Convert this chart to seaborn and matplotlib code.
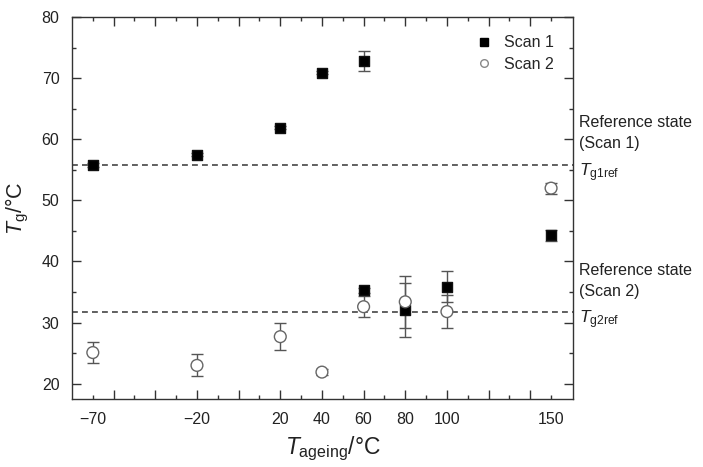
import matplotlib
matplotlib.use("Agg")
import matplotlib.pyplot as plt
import seaborn as sns
import pandas as pd
import numpy as np
from matplotlib.lines import Line2D

sns.set_theme(style="white")
plt.rcParams['font.family'] = ['Liberation Sans', 'DejaVu Sans']
plt.rcParams['mathtext.fontset'] = 'custom'
plt.rcParams['mathtext.rm'] = 'Liberation Sans'
plt.rcParams['mathtext.it'] = 'Liberation Sans:italic'

# Data
t_ageing = [-70, -20, 20, 40, 60, 80, 100, 150]
scan1 = [55.8, 57.5, 61.9, 70.9, 72.8, 32.1, 35.9, 44.3]
scan1_err = [0.3, 0.3, 0.3, 0.3, 1.6, 4.4, 2.6, 0.9]
scan1_extra_x = [60]
scan1_extra_y = [35.3]
scan1_extra_err = [0.4]
scan2 = [25.1, 23.0, 27.7, 21.9, 32.6, 33.4, 31.8, 52.0]
scan2_err = [1.7, 1.8, 2.2, 0.5, 1.7, 4.3, 2.7, 0.9]
tg1ref = 55.8
tg2ref = 31.7
tick_labels = ["\u221270", "\u221220", "20", "40", "60", "80", "100", "150"]

df = pd.DataFrame({
    "x": t_ageing + scan1_extra_x + t_ageing,
    "y": scan1 + scan1_extra_y + scan2,
    "err": scan1_err + scan1_extra_err + scan2_err,
    "series": ["Scan 1"] * (len(t_ageing) + 1) + ["Scan 2"] * len(t_ageing),
})

fig = plt.figure(figsize=(7.03, 4.67), dpi=100)
ax = fig.add_axes([0.1024, 0.1456, 0.7126, 0.818])

# reference lines
ax.axhline(tg1ref, color="#444444", ls=(0, (3.5, 2.5)), lw=1.2, zorder=1)
ax.axhline(tg2ref, color="#444444", ls=(0, (3.5, 2.5)), lw=1.2, zorder=1)

# error bars
d1 = df[df.series == "Scan 1"]
d2 = df[df.series == "Scan 2"]
ax.errorbar(d2.x, d2.y, yerr=d2.err, fmt="none", ecolor="#555555",
            elinewidth=1.0, capsize=4, capthick=1.0, zorder=2)
ax.errorbar(d1.x, d1.y, yerr=d1.err, fmt="none", ecolor="#555555",
            elinewidth=1.0, capsize=4, capthick=1.0, zorder=2)

sns.scatterplot(data=df, x="x", y="y", hue="series", style="series",
                size="series", sizes={"Scan 1": 52, "Scan 2": 72},
                markers={"Scan 1": "s", "Scan 2": "o"},
                palette={"Scan 1": "black", "Scan 2": "white"},
                ax=ax, legend=False, zorder=3)
coll = ax.collections[-1]
fc = coll.get_facecolors()
ec = ["#111111" if tuple(c[:3]) == (0, 0, 0) else "#666666" for c in fc]
coll.set_edgecolors(ec)
coll.set_linewidths(1.0)

ax.set_xlim(-80, 160.5)
ax.set_ylim(17.5, 80)

# ticks
ax.set_xticks(np.arange(-60, 141, 20))
ax.set_xticks(np.arange(-70, 151, 20), minor=True)
ax.set_xticklabels([])
ax.set_yticks(np.arange(20, 81, 10))
ax.set_yticks(np.arange(20, 80, 5), minor=True)
ax.tick_params(axis="both", which="both", direction="in", top=True, right=True,
               bottom=True, left=True, color="#333333", width=1.0)
ax.tick_params(axis="both", which="major", length=6.5)
ax.tick_params(axis="both", which="minor", length=3)
ax.tick_params(axis="y", labelsize=11.5, pad=9, labelcolor="#222222")

sec = ax.secondary_xaxis("bottom")
sec.set_xticks(t_ageing)
sec.set_xticklabels(tick_labels)
sec.tick_params(length=0, labelsize=11.5, pad=9, labelcolor="#222222")
sec.spines["bottom"].set_visible(False)

for sp in ax.spines.values():
    sp.set_color("#333333")
    sp.set_linewidth(1.0)

ax.set_xlabel("")
sec.set_xlabel(r"$T_{\rm ageing}$/°C", fontsize=16.5, labelpad=6, color="#222222")
sec.xaxis.label.set_x(0.52)
ax.set_ylabel(r"$T_{\rm g}$/°C", fontsize=15.5, labelpad=8, color="#222222")

# legend
handles = [
    Line2D([], [], marker="s", ls="none", color="black", markersize=5.5),
    Line2D([], [], marker="o", ls="none", markerfacecolor="white",
           markeredgecolor="#888888", markersize=5.5),
]
ax.legend(handles, ["Scan 1", "Scan 2"], loc="upper right", frameon=False,
          fontsize=11.5, handletextpad=0.5, handlelength=1.5,
          bbox_to_anchor=(0.99, 0.99), labelspacing=0.4)

# right annotations
trans = ax.get_yaxis_transform()
ax.text(1.012, tg1ref + 2.2, "Reference state\n(Scan 1)", transform=trans,
        fontsize=11.5, va="bottom", ha="left", color="#222222", linespacing=1.5)
ax.text(1.012, tg1ref - 1.3, r"$T_{\rm g1ref}$", transform=trans,
        fontsize=12.5, va="center", ha="left", color="#222222")
ax.text(1.012, tg2ref + 2.2, "Reference state\n(Scan 2)", transform=trans,
        fontsize=11.5, va="bottom", ha="left", color="#222222", linespacing=1.5)
ax.text(1.012, tg2ref - 1.3, r"$T_{\rm g2ref}$", transform=trans,
        fontsize=12.5, va="center", ha="left", color="#222222")

fig.savefig("out.png", dpi=100)
